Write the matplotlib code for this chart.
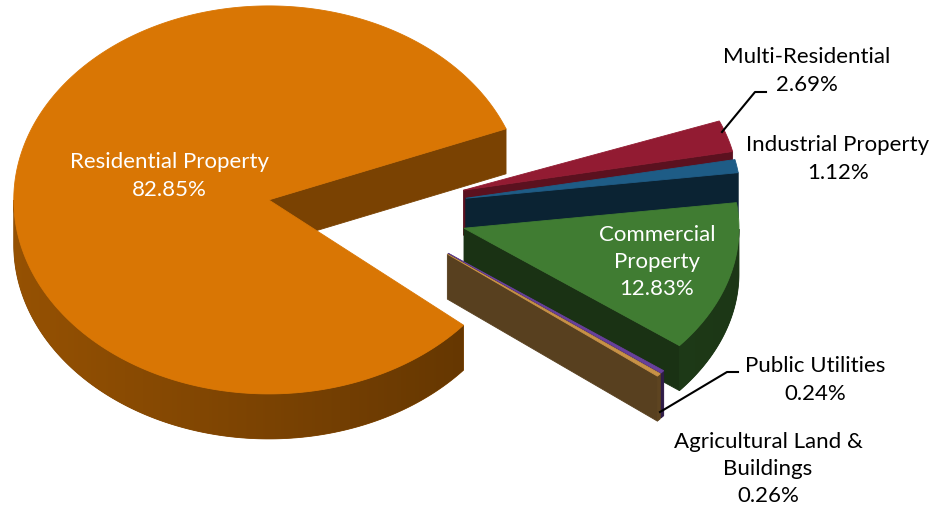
import numpy as np
import matplotlib
matplotlib.use("Agg")
import matplotlib.pyplot as plt
from matplotlib.patches import Polygon

# ---- data -------------------------------------------------------------
categories = ["Residential Property", "Agricultural Land &\nBuildings",
              "Public Utilities", "Commercial\nProperty",
              "Industrial Property", "Multi-Residential"]
shares = [82.85, 0.26, 0.24, 12.83, 1.12, 2.69]

# ---- styling ----------------------------------------------------------
top_colors = [(217, 118, 4), (200, 146, 70), (104, 64, 156),
              (64, 124, 50), (30, 92, 134), (146, 27, 50)]
cut_shade = [0.56, 0.44, 0.5, 0.40, 0.38, 0.62]
radius_x = [255, 275, 275, 275, 275, 275]
radius_y = [194, 189, 189, 189, 189, 189]
explode_x = [1.35, 1.0, 1.0, 1.0, 1.0, 1.0]
explode_y = [0.9, 1.0, 1.0, 1.0, 1.0, 1.0]
label_pos = [(169, 176), (768, 469), (815, 380), (657, 262),
             (838, 159), (807, 71)]
label_color = ["white", "black", "black", "white", "black", "black"]

plt.rcParams["font.family"] = ["Lato", "DejaVu Sans"]

DEPTH = 45.0                  # slab thickness (px)
CX, CY = 382.0, 210.0         # pie centre before explosion
EX, EY = 85.0, 69.0           # explosion offset (px)
START = 21.5


def rgb(c, k=1.0):
    return tuple(min(1.0, max(0.0, v * k / 255.0)) for v in c)


fig = plt.figure(figsize=(9.42, 5.14), dpi=100)
ax = fig.add_axes([0, 0, 1, 1])
ax.set_xlim(0, 942)
ax.set_ylim(514, 0)
ax.axis("off")

total = sum(shares)
bounds = []
th = START
for v in shares:
    th2 = th + 360.0 * v / total
    bounds.append((th, th2))
    th = th2

slices = []
for i, (t1, t2) in enumerate(bounds):
    tm = np.radians((t1 + t2) / 2)
    ox = CX + explode_x[i] * EX * np.cos(tm)
    oy = CY - explode_y[i] * EY * np.sin(tm)
    slices.append((np.sin(tm), i, ox, oy, t1, t2))

# back-to-front drawing order
slices.sort(key=lambda s: -s[0])


def face(pts, color, z):
    p = Polygon(pts, closed=True, facecolor=color, edgecolor=color,
                linewidth=0.6, zorder=z)
    ax.add_patch(p)
    return p


def rim_shade(c):
    return 0.565 - 0.125 * c


z = 1
for _, i, ox, oy, t1, t2 in slices:
    base = top_colors[i]
    a, b = radius_x[i], radius_y[i]

    def P(t, dz=0.0):
        r = np.radians(t)
        return ox + a * np.cos(r), oy - b * np.sin(r) + dz

    # cut faces turned toward the viewer
    for t, vis in ((t1, np.cos(np.radians(t1)) > 0),
                   (t2, np.cos(np.radians(t2)) < 0)):
        if vis:
            face([(ox, oy), P(t), P(t, DEPTH), (ox, oy + DEPTH)],
                 rgb(base, cut_shade[i]), z)

    # outer rim on the front half, with a horizontal light gradient
    ts = np.linspace(t1, t2, max(3, int((t2 - t1) / 0.25) + 1))
    front = ts[np.sin(np.radians(ts)) < 0]
    if len(front) >= 2:
        top_arc = [P(t) for t in front]
        bot_arc = [P(t, DEPTH) for t in front[::-1]]
        cm = np.cos(np.radians(front.mean()))
        patch = face(top_arc + bot_arc, rgb(base, rim_shade(cm)), z)
        xs = [p[0] for p in top_arc]
        x0, x1 = min(xs) - 2, max(xs) + 2
        ys = [p[1] for p in top_arc + bot_arc]
        y0, y1 = min(ys) - 2, max(ys) + 2
        gx = np.linspace(x0, x1, 400)
        k = rim_shade(np.clip((gx - ox) / a, -1, 1))
        img = np.array([[rgb(base, kk) for kk in k]])
        im = ax.imshow(img, extent=[x0, x1, y1, y0], aspect="auto",
                       interpolation="bilinear", zorder=z)
        im.set_clip_path(patch)

    # top face
    arc = [P(t) for t in ts]
    face([(ox, oy)] + arc, rgb(base), z + 1)
    z += 2

ax.set_xlim(0, 942)
ax.set_ylim(514, 0)

# labels
for i, name in enumerate(categories):
    x, y = label_pos[i]
    ax.text(x, y, f"{name}\n{shares[i]:.2f}%", ha="center", va="center",
            fontsize=16, color=label_color[i], linespacing=1.45, zorder=50)

# leader lines
ax.plot([722, 755, 766], [132, 92, 92], color="black", lw=1.5, zorder=40)
ax.plot([660, 727, 738], [412, 372, 372], color="black", lw=1.5, zorder=40)

fig.savefig("out.png", dpi=100)
